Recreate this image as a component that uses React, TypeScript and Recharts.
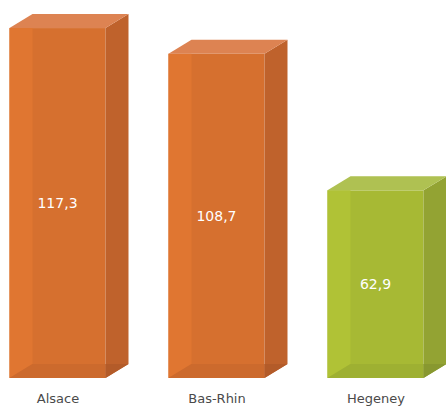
import { BarChart, Bar, XAxis, YAxis, Cell, LabelList } from 'recharts';

const categories = ['Alsace', 'Bas-Rhin', 'Hegeney'];
const values = [117.3, 108.7, 62.9];
const barColors = ['orange', 'orange', 'green'];

// face colours of the 3D boxes
const palettes: Record<string, { front: string; left: string; bottom: string; side: string; sideBottom: string; top: string }> = {
  orange: { front: '#D6702F', left: '#E07631', bottom: '#CC6A2D', side: '#BF622C', sideBottom: '#B35B29', top: '#DD8352' },
  green: { front: '#A7B934', left: '#B0C236', bottom: '#9EB032', side: '#93A333', sideBottom: '#889830', top: '#AFC152' },
};

const data = categories.map((name, i) => ({ x: i, name, value: values[i], color: barColors[i] }));

const DX = 23;
const DY = 14;

const Box3D = (props: any) => {
  const { x, y, width: w, height: h, payload } = props;
  const p = palettes[payload.color];
  const pts = (a: number[][]) => a.map((q) => q.join(',')).join(' ');
  return (
    <g>
      <rect x={x} y={y} width={w} height={h} fill={p.front} />
      <polygon points={pts([[x, y], [x + DX, y], [x + DX, y + h - DY], [x, y + h]])} fill={p.left} />
      <polygon points={pts([[x, y + h], [x + DX, y + h - DY], [x + w, y + h - DY], [x + w, y + h]])} fill={p.bottom} />
      <polygon points={pts([[x + w, y], [x + w + DX, y - DY], [x + w + DX, y + h - DY], [x + w, y + h]])} fill={p.side} />
      <polygon points={pts([[x + w, y + h - DY], [x + w + DX, y + h - DY], [x + w, y + h]])} fill={p.sideBottom} />
      <polygon points={pts([[x, y], [x + DX, y - DY], [x + w + DX, y - DY], [x + w, y]])} fill={p.top} />
    </g>
  );
};

export default function App() {
  return (
    <div style={{ position: 'absolute', left: 0, top: 0, width: 446, height: 407, background: '#fff' }}>
      <BarChart width={446} height={407} data={data} margin={{ top: 20, right: 0, bottom: 0, left: 0 }}>
        <XAxis
          type="number"
          dataKey="x"
          domain={[-0.3648, 2.4403]}
          ticks={[0, 1, 2]}
          allowDataOverflow
          tickFormatter={(i: number) => categories[i]}
          axisLine={false}
          tickLine={false}
          tickSize={0}
          tickMargin={16}
          height={29}
          tick={{ fill: '#4a4a4a', fontSize: 13, fontFamily: 'DejaVu Sans' }}
        />
        <YAxis hide domain={[0, 120]} />
        <Bar dataKey="value" barSize={96} shape={Box3D} isAnimationActive={false}>
          {data.map((d) => (
            <Cell key={d.name} fill={palettes[d.color].front} />
          ))}
          <LabelList
            dataKey="value"
            position="center"
            fill="#ffffff"
            fontSize={14}
            fontFamily="DejaVu Sans"
            formatter={(v: any) => String(v).replace('.', ',')}
          />
        </Bar>
      </BarChart>
    </div>
  );
}
